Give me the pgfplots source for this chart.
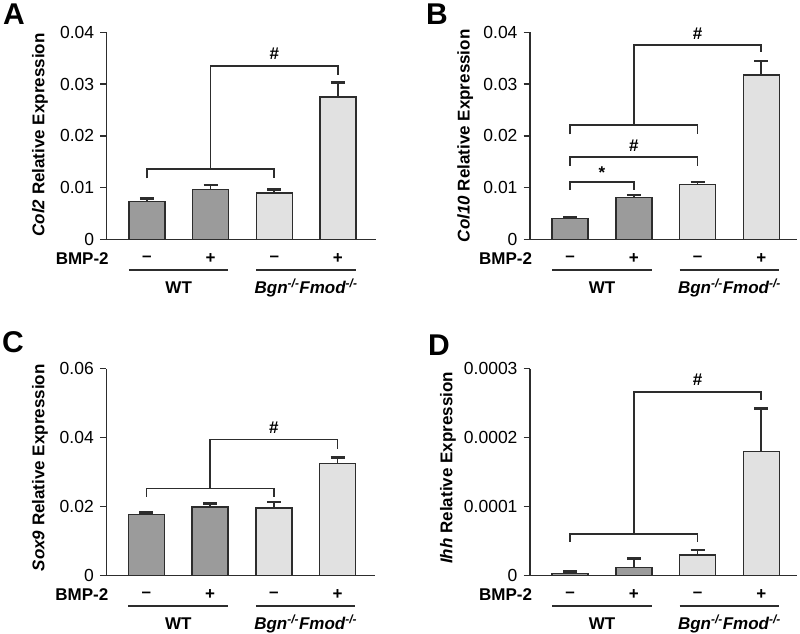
\documentclass[border=0pt]{standalone}
\usepackage{pgfplots}
\pgfplotsset{compat=1.18}
\usepackage{fontspec}
\setmainfont{Liberation Sans}
\definecolor{darkbar}{RGB}{155,155,155}
\definecolor{lightbar}{RGB}{225,225,225}
\definecolor{ink}{RGB}{45,45,45}

\newcommand\lab{\fontsize{17}{20}\selectfont}
\pgfplotsset{
  panel/.style={
    scale only axis, height=207pt, ymin=0,
    xmin=0.37, clip=false,
    axis x line*=bottom, axis y line*=left,
    axis line style={-, ink, line width=1.5pt},
    xtick=\empty, tick align=outside, major tick length=6.5pt,
    every tick/.style={ink, line width=1.4pt},
    scaled y ticks=false,
    tick label style={font=\fontsize{17.5}{20}\selectfont},
    yticklabel style={xshift=-2.5pt},
    ylabel style={anchor=center, font=\bfseries\lab},
  },
  bars/.style={ybar, bar width=36pt, bar shift=0pt, fill=#1, draw=ink, line width=1.4pt,
    error bars/.cd, y dir=plus, y explicit,
    error bar style={line width=1.7pt, ink},
    error mark options={rotate=90, mark size=7pt, line width=2.6pt, ink}},
}
\tikzset{brk/.style={ink, line width=1.7pt}, sig/.style={font=\bfseries\lab}}
% labels under each panel
\newcommand\groups{
  \node[font=\bfseries\lab, anchor=east, xshift=5.5pt, yshift=-19pt] at (rel axis cs:0,0) {BMP-2};
  \node[font=\bfseries\lab, yshift=-19pt] at (axis cs:1,0) {–};
  \node[font=\bfseries\lab, yshift=-19pt] at (axis cs:2,0) {+};
  \node[font=\bfseries\lab, yshift=-19pt] at (axis cs:3,0) {–};
  \node[font=\bfseries\lab, yshift=-19pt] at (axis cs:4,0) {+};
  \draw[ink, line width=1.9pt] ([yshift=-30.5pt]axis cs:0.718,0) -- ([yshift=-30.5pt]axis cs:2.282,0);
  \draw[ink, line width=1.9pt] ([yshift=-30.5pt]axis cs:2.718,0) -- ([yshift=-30.5pt]axis cs:4.282,0);
  \node[font=\bfseries\lab, anchor=base, yshift=-54pt] at (axis cs:1.5,0) {WT};
  \node[font=\bfseries\itshape\lab, anchor=base, yshift=-54pt] at (axis cs:3.5,0) {Bgn\textsuperscript{-/-}Fmod\textsuperscript{-/-}};
}

\begin{document}
\begin{tikzpicture}
\useasboundingbox (0,0) rectangle (800pt,-634pt);
\tikzset{letter/.style={font=\bfseries\fontsize{30}{30}\selectfont}}
\node[letter] at (14pt,-14pt) {A};
\node[letter] at (437pt,-14pt) {B};
\node[letter] at (13pt,-342pt) {C};
\node[letter] at (439pt,-345pt) {D};

% A
\begin{axis}[panel, at={(106.7pt,-239.3pt)}, anchor=south west, width=269pt, xmax=4.593,
  ymax=0.04, ytick={0,0.01,0.02,0.03,0.04}, yticklabels={0,0.01,0.02,0.03,0.04},
  ylabel={\textit{Col2} Relative Expression},
  ylabel style={at={(axis description cs:-0.248,0.504)}}]
\addplot[bars=darkbar] coordinates {(1,0.00727) +- (0,0.00058) (2,0.00967) +- (0,0.00083)};
\addplot[bars=lightbar] coordinates {(3,0.00894) +- (0,0.00065) (4,0.0275) +- (0,0.0028)};
\draw[brk] (axis cs:1,0.01179) |- (axis cs:3,0.01358) -- (axis cs:3,0.01179);
\draw[brk] (axis cs:2,0.01358) |- (axis cs:4,0.03355) -- (axis cs:4,0.0317);
\node[sig] at (axis cs:3,0.0358) {\#};
\groups
\end{axis}

% B
\begin{axis}[panel, at={(530pt,-239.3pt)}, anchor=south west, width=267pt, xmax=4.561,
  ymax=0.04, ytick={0,0.01,0.02,0.03,0.04}, yticklabels={0,0.01,0.02,0.03,0.04},
  ylabel={\textit{Col10} Relative Expression},
  ylabel style={at={(axis description cs:-0.243,0.5)}}]
\addplot[bars=darkbar] coordinates {(1,0.00406) +- (0,0.00025) (2,0.00812) +- (0,0.00044)};
\addplot[bars=lightbar] coordinates {(3,0.01055) +- (0,0.00052) (4,0.03175) +- (0,0.0027)};
\draw[brk] (axis cs:1,0.00953) |- (axis cs:2,0.01113) -- (axis cs:2,0.00953);
\node[sig] at (axis cs:1.5,0.0129) {*};
\draw[brk] (axis cs:1,0.01422) |- (axis cs:3,0.01596) -- (axis cs:3,0.01422);
\node[sig] at (axis cs:2,0.0181) {\#};
\draw[brk] (axis cs:1,0.0203) |- (axis cs:3,0.02209) -- (axis cs:3,0.0203);
\draw[brk] (axis cs:2,0.02209) |- (axis cs:4,0.03755) -- (axis cs:4,0.03625);
\node[sig] at (axis cs:3,0.0397) {\#};
\groups
\end{axis}

% C
\begin{axis}[panel, at={(106.3pt,-575.5pt)}, anchor=south west, width=269pt, xmax=4.593,
  ymax=0.06, ytick={0,0.02,0.04,0.06}, yticklabels={0,0.02,0.04,0.06},
  ylabel={\textit{Sox9} Relative Expression},
  ylabel style={at={(axis description cs:-0.2465,0.52)}}]
\addplot[bars=darkbar] coordinates {(1,0.01765) +- (0,0.00058) (2,0.01988) +- (0,0.00096)};
\addplot[bars=lightbar] coordinates {(3,0.0196) +- (0,0.00174) (4,0.03245) +- (0,0.00175)};
\draw[brk] (axis cs:1,0.0228) |- (axis cs:3,0.0252) -- (axis cs:3,0.0228);
\draw[brk] (axis cs:2,0.0252) |- (axis cs:4,0.0394) -- (axis cs:4,0.0368);
\node[sig] at (axis cs:3,0.0428) {\#};
\groups
\end{axis}

% D
\begin{axis}[panel, at={(530pt,-575.5pt)}, anchor=south west, width=267pt, xmax=4.561,
  ymax=0.0003, ytick={0,0.0001,0.0002,0.0003}, yticklabels={0,0.0001,0.0002,0.0003},
  ylabel={\textit{Ihh} Relative Expression},
  ylabel style={at={(axis description cs:-0.307,0.52)}}]
\addplot[bars=darkbar] coordinates {(1,0.0000032) +- (0,0.0000023) (2,0.0000113) +- (0,0.0000131)};
\addplot[bars=lightbar] coordinates {(3,0.0000298) +- (0,0.0000072) (4,0.000180) +- (0,0.000062)};
\draw[brk] (axis cs:1,0.000049) |- (axis cs:3,0.0000602) -- (axis cs:3,0.000049);
\draw[brk] (axis cs:2,0.0000602) |- (axis cs:4,0.000266) -- (axis cs:4,0.000254);
\node[sig] at (axis cs:3,0.000284) {\#};
\groups
\end{axis}
\end{tikzpicture}
\end{document}
